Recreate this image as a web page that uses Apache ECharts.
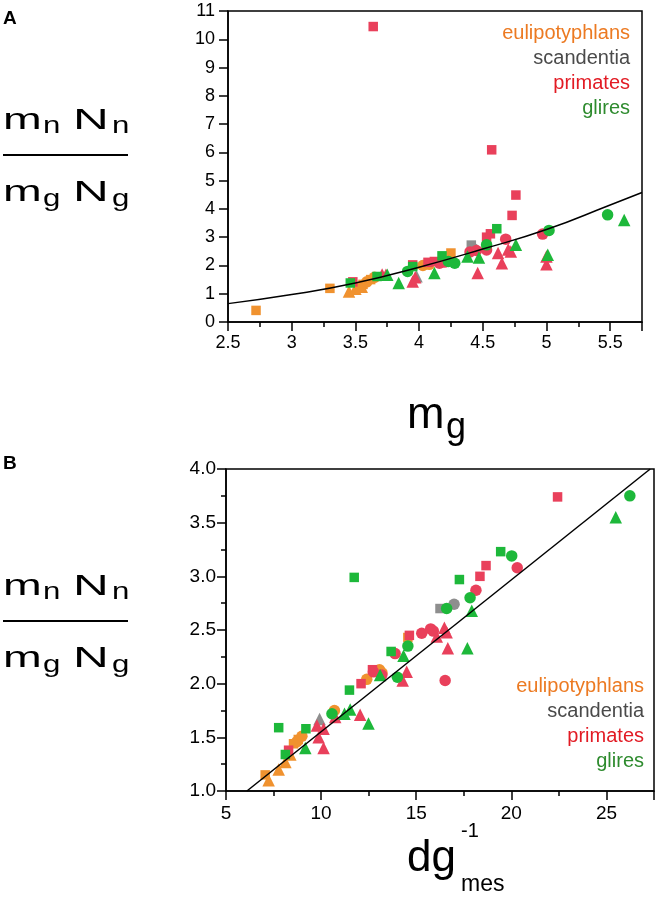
<!DOCTYPE html>
<html>
<head>
<meta charset="utf-8">
<script src="https://cdn.jsdelivr.net/npm/echarts@6/dist/echarts.min.js"></script>
<style>
html,body{margin:0;padding:0;background:#fff;}
#chart{width:661px;height:916px;}
</style>
</head>
<body>
<div id="chart"></div>
<script>
// ---------- DATA ----------
const groupNames = ['eulipotyphlans', 'scandentia', 'primates', 'glires'];

// Panel A: x = m_g, y = (m_n N_n)/(m_g N_g)
const A_eul_sq = [[2.72,0.41],[3.30,1.19],[3.52,1.22],[3.56,1.33],[3.62,1.50],[4.25,2.44]];
const A_eul_ci = [[3.59,1.42],[3.65,1.58],[4.08,2.04],[4.03,2.00]];
const A_eul_tr = [[3.45,1.08],[3.50,1.18],[3.55,1.25]];
const A_sca_sq = [[4.41,2.72]];
const A_sca_ci = [[4.43,2.58]];
const A_sca_tr = [[3.98,1.62]];
const A_pri_sq = [[3.64,10.45],[4.57,6.09],[4.76,4.49],[4.73,3.77],[4.53,3.00],[4.56,3.12],[3.48,1.42],[3.95,2.02],[4.07,2.11],[4.12,2.14]];
const A_pri_ci = [[4.97,3.11],[4.68,2.93],[4.53,2.55],[4.45,2.53],[4.40,2.48],[4.16,2.08],[4.20,2.12]];
const A_pri_tr = [[5.00,2.32],[5.00,2.04],[4.62,2.44],[4.65,2.08],[4.72,2.49],[4.70,2.56],[4.46,1.73],[3.95,1.43],[3.97,1.58],[3.74,1.67],[3.71,1.68]];
const A_gli_sq = [[3.46,1.38],[3.67,1.61],[3.95,1.96],[4.18,2.34],[4.61,3.30]];
const A_gli_ci = [[3.91,1.79],[4.23,2.14],[4.28,2.08],[4.53,2.73],[5.02,3.24],[5.48,3.79]];
const A_gli_tr = [[3.75,1.67],[3.84,1.38],[4.12,1.73],[4.38,2.32],[4.47,2.28],[4.76,2.73],[5.01,2.38],[5.61,3.61]];
// fitted curve
const A_fitX = [2.5, 3.0, 3.5, 4.0, 4.5, 5.0, 5.5, 5.75];
const A_fitY = [0.65, 0.97, 1.38, 1.94, 2.58, 3.27, 4.14, 4.58];

// Panel B: x = dg^-1_mes, y = (m_n N_n)/(m_g N_g)
const B_eul_sq = [[7.06,1.15],[8.55,1.44],[8.80,1.48],[14.56,2.43]];
const B_eul_ci = [[8.73,1.46],[8.99,1.51],[10.70,1.75],[12.40,2.04],[13.07,2.13],[13.20,2.10]];
const B_eul_tr = [[7.24,1.10],[7.77,1.20],[8.12,1.27],[8.38,1.34]];
const B_sca_sq = [[16.25,2.70]];
const B_sca_ci = [[16.99,2.74]];
const B_sca_tr = [[9.92,1.67]];
const B_pri_sq = [[22.43,3.74],[18.67,3.10],[18.35,3.00],[14.64,2.45],[12.70,2.13],[12.10,2.00],[8.29,1.38]];
const B_pri_ci = [[20.31,3.08],[18.14,2.87],[15.29,2.47],[15.76,2.51],[15.90,2.49],[16.52,2.03],[13.89,2.28],[12.75,2.11],[13.19,2.08]];
const B_pri_tr = [[16.48,2.52],[16.60,2.48],[16.08,2.44],[16.66,2.33],[14.50,2.11],[14.29,2.03],[12.05,1.71],[10.74,1.69],[9.78,1.61],[10.13,1.58],[9.87,1.50],[10.13,1.40]];
const B_gli_sq = [[19.44,3.23],[17.27,2.97],[11.74,2.99],[13.68,2.30],[11.49,1.94],[9.20,1.58],[7.77,1.59],[8.12,1.34]];
const B_gli_ci = [[26.23,3.75],[20.02,3.19],[17.83,2.80],[16.60,2.70],[14.56,2.35],[14.01,2.06],[10.57,1.72]];
const B_gli_tr = [[25.49,3.55],[17.92,2.68],[17.69,2.33],[14.33,2.26],[11.53,1.76],[11.23,1.72],[12.49,1.63],[9.17,1.40],[13.10,2.08]];
const B_fitX = [6.1, 27.3];
const B_fitY = [1.0, 4.0];

// ---------- STYLE ----------
const markerColors = { eul: '#F0922F', sca: '#8E8E8E', pri: '#E9405B', gli: '#1DB83A' };
const legendColors = ['#EC7A22', '#4A4A4A', '#E21B24', '#2E8B2E'];
const FONT = 'Liberation Sans, Arial, Helvetica, sans-serif';

const chart = echarts.init(document.getElementById('chart'), null, { renderer: 'canvas' });

function scat(name, data, grp, shape, xi, yi) {
  const sizes = { rect: 9.5, circle: 11.5, triangle: 12.5 };
  return {
    type: 'scatter', name: name, data: data,
    xAxisIndex: xi, yAxisIndex: yi,
    symbol: shape, symbolSize: sizes[shape],
    itemStyle: { color: markerColors[grp], opacity: 1 },
    silent: true, animation: false
  };
}
function fitSeries(xs, ys, xi, yi, smooth) {
  return {
    type: 'line', data: xs.map((x, i) => [x, ys[i]]),
    xAxisIndex: xi, yAxisIndex: yi, showSymbol: false, smooth: smooth,
    lineStyle: { color: '#000', width: 1.5 }, silent: true, animation: false, z: 5
  };
}

const series = [];
const setsA = [['sca', A_sca_sq, A_sca_ci, A_sca_tr], ['eul', A_eul_sq, A_eul_ci, A_eul_tr], ['pri', A_pri_sq, A_pri_ci, A_pri_tr], ['gli', A_gli_sq, A_gli_ci, A_gli_tr]];
const setsB = [['sca', B_sca_sq, B_sca_ci, B_sca_tr], ['eul', B_eul_sq, B_eul_ci, B_eul_tr], ['pri', B_pri_sq, B_pri_ci, B_pri_tr], ['gli', B_gli_sq, B_gli_ci, B_gli_tr]];
setsA.forEach(s => {
  series.push(scat('A-' + s[0] + '-sq', s[1], s[0], 'rect', 0, 0));
  series.push(scat('A-' + s[0] + '-ci', s[2], s[0], 'circle', 0, 0));
  series.push(scat('A-' + s[0] + '-tr', s[3], s[0], 'triangle', 0, 0));
});
setsB.forEach(s => {
  series.push(scat('B-' + s[0] + '-sq', s[1], s[0], 'rect', 2, 1));
  series.push(scat('B-' + s[0] + '-ci', s[2], s[0], 'circle', 2, 1));
  series.push(scat('B-' + s[0] + '-tr', s[3], s[0], 'triangle', 2, 1));
});
series.push(fitSeries(A_fitX, A_fitY, 0, 0, true));
series.push(fitSeries(B_fitX, B_fitY, 2, 1, false));

const axLine = { show: true, onZero: false, lineStyle: { color: '#000', width: 1.5 } };
const lbl = (size, margin, fmt) => ({ color: '#000', fontSize: size, fontFamily: FONT, margin: margin, formatter: fmt, showMinLabel: true, showMaxLabel: true });

function isMult(v, m) { return Math.abs(v / m - Math.round(v / m)) < 1e-6; }

const xAxes = [
  { type: 'value', gridIndex: 0, position: 'bottom', min: 2.5, max: 5.75, interval: 0.25,
    axisLine: axLine, splitLine: { show: false },
    axisTick: { show: true, inside: false, length: 5, lineStyle: { color: '#000', width: 1.5 } },
    axisLabel: lbl(18, 12, v => (isMult(v, 0.5) && v < 5.7) ? String(+v.toFixed(2)) : '') },
  { type: 'value', gridIndex: 0, position: 'bottom', min: 2.5, max: 5.75, interval: 0.5,
    axisLine: { show: false }, splitLine: { show: false },
    axisTick: { show: true, length: 9, lineStyle: { color: '#000', width: 1.5 } },
    axisLabel: { show: false } },
  { type: 'value', gridIndex: 1, position: 'bottom', min: 5, max: 27.5, interval: 2.5,
    axisLine: axLine, splitLine: { show: false },
    axisTick: { show: true, length: 5, lineStyle: { color: '#000', width: 1.5 } },
    axisLabel: lbl(19, 13, v => isMult(v, 5) ? String(v) : '') },
  { type: 'value', gridIndex: 1, position: 'bottom', min: 5, max: 27.5, interval: 5,
    axisLine: { show: false }, splitLine: { show: false },
    axisTick: { show: true, length: 9, lineStyle: { color: '#000', width: 1.5 } },
    axisLabel: { show: false } }
];
const yAxes = [
  { type: 'value', gridIndex: 0, position: 'left', min: 0, max: 11, interval: 1,
    axisLine: axLine, splitLine: { show: false },
    axisTick: { show: true, length: 9, lineStyle: { color: '#000', width: 1.5 } },
    axisLabel: lbl(18, 13, v => String(v)) },
  { type: 'value', gridIndex: 1, position: 'left', min: 1, max: 4, interval: 0.5,
    axisLine: axLine, splitLine: { show: false },
    axisTick: { show: true, length: 9, lineStyle: { color: '#000', width: 1.5 } },
    minorTick: { show: true, splitNumber: 2, length: 5, lineStyle: { color: '#000', width: 1.5 } },
    minorSplitLine: { show: false },
    axisLabel: lbl(19, 10, v => v.toFixed(1)) }
];

// ---------- text helpers ----------
function txt(str, x, baseline, size, opts) {
  opts = opts || {};
  return {
    type: 'text', x: x, y: baseline - 0.33 * size, scaleX: opts.sx || 1, silent: true,
    style: { text: str, fill: opts.color || '#000', font: (opts.bold ? 'bold ' : '') + size + 'px ' + FONT,
      textAlign: opts.align || 'left', align: opts.align || 'left',
      textVerticalAlign: 'middle', verticalAlign: 'middle' }
  };
}
function fraction(dy) {
  return [
    txt('m', 3, 131 + dy, 30, { sx: 1.55 }),
    txt('n', 43, 134 + dy, 24, { sx: 1.3 }),
    txt('N', 73, 131 + dy, 30, { sx: 1.65 }),
    txt('n', 112, 134 + dy, 24, { sx: 1.3 }),
    { type: 'line', silent: true, shape: { x1: 3, y1: 155 + dy, x2: 128, y2: 155 + dy }, style: { stroke: '#000', lineWidth: 2 } },
    txt('m', 3, 203 + dy, 30, { sx: 1.55 }),
    txt('g', 43, 207 + dy, 24, { sx: 1.3 }),
    txt('N', 73, 203 + dy, 30, { sx: 1.65 }),
    txt('g', 112, 207 + dy, 24, { sx: 1.3 })
  ];
}
function legend(right, top) {
  return groupNames.map((g, i) => txt(g, right, top + i * 25, 20, { color: legendColors[i], align: 'right' }));
}

const graphics = [].concat(
  [txt('A', 3, 25, 19, { bold: true }), txt('B', 3, 470, 19, { bold: true })],
  fraction(0), fraction(466),
  legend(630, 40), legend(644, 693),
  [
    txt('m', 407, 430, 45),
    txt('g', 446, 440, 36),
    txt('dg', 407, 873, 44),
    txt('-1', 461, 838, 20),
    txt('mes', 461, 892, 23)
  ]
);

chart.setOption({
  animation: false,
  backgroundColor: '#fff',
  grid: [
    { left: 228, top: 11, width: 414, height: 311, show: true, borderColor: '#000', borderWidth: 1.5, backgroundColor: 'transparent' },
    { left: 226, top: 469, width: 428, height: 322, show: true, borderColor: '#000', borderWidth: 1.5, backgroundColor: 'transparent' }
  ],
  xAxis: xAxes,
  yAxis: yAxes,
  series: series,
  graphic: graphics
});
</script>
</body>
</html>
